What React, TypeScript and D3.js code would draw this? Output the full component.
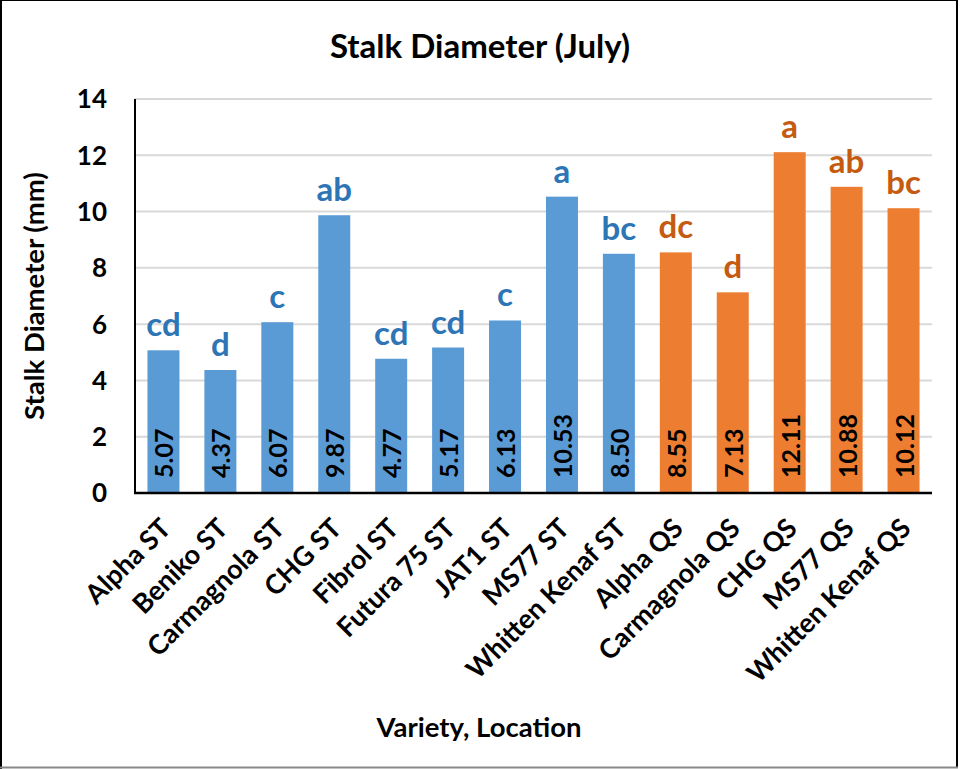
import React from "react";
import * as d3 from "d3";

const categories = [
  "Alpha ST", "Beniko ST", "Carmagnola ST", "CHG ST", "Fibrol ST", "Futura 75 ST",
  "JAT1 ST", "MS77 ST", "Whitten Kenaf ST", "Alpha QS", "Carmagnola QS", "CHG QS",
  "MS77 QS", "Whitten Kenaf QS",
];
const values = [5.07, 4.37, 6.07, 9.87, 4.77, 5.17, 6.13, 10.53, 8.5, 8.55, 7.13, 12.11, 10.88, 10.12];
const letters = ["cd", "d", "c", "ab", "cd", "cd", "c", "a", "bc", "dc", "d", "a", "ab", "bc"];
const locations = ["ST", "ST", "ST", "ST", "ST", "ST", "ST", "ST", "ST", "QS", "QS", "QS", "QS", "QS"];
const yTicks = [0, 2, 4, 6, 8, 10, 12, 14];

const W = 961;
const H = 769;
const FONT = "Lato, 'Open Sans', sans-serif";

export default function App() {
  const left = 135, right = 932, top = 99, bottom = 493;
  const x = d3.scaleBand<string>().domain(categories).range([left, right]).paddingInner(0.438).paddingOuter(0.219);
  const y = d3.scaleLinear().domain([0, 14]).range([bottom, top]);
  const barColor = d3.scaleOrdinal<string, string>().domain(["ST", "QS"]).range(["#5B9BD5", "#ED7D31"]);
  const letterColor = d3.scaleOrdinal<string, string>().domain(["ST", "QS"]).range(["#2E75B6", "#C55A11"]);

  return (
    <div style={{ position: "absolute", left: 0, top: 0 }}>
      <svg width={W} height={H} style={{ display: "block", fontFamily: FONT }}>
        <rect x={0} y={0} width={W} height={H} fill="#fff" />
        {/* frame */}
        <line x1={1} y1={0} x2={1} y2={H} stroke="#000" strokeWidth={2} />
        <line x1={0} y1={0.5} x2={958} y2={0.5} stroke="#000" strokeWidth={1} />
        <line x1={957} y1={0} x2={957} y2={768} stroke="#000" strokeWidth={2} />
        <line x1={0} y1={767.5} x2={958} y2={767.5} stroke="#888" strokeWidth={2} />

        <text x={480} y={58} textAnchor="middle" fontSize={33} fontWeight={700} fill="#000">
          Stalk Diameter (July)
        </text>

        {yTicks.map((t) => (
          <g key={t}>
            {t > 0 && (
              <line x1={left} x2={right} y1={y(t)} y2={y(t)} stroke="#D9D9D9" strokeWidth={2} />
            )}
            <text x={107} y={y(t)} dy="0.36em" textAnchor="end" fontSize={26} fontWeight={700} fill="#000">
              {t}
            </text>
          </g>
        ))}

        {categories.map((c, i) => {
          const bx = x(c)!;
          const bw = x.bandwidth();
          const cx = bx + bw / 2;
          return (
            <g key={c}>
              <rect x={bx} y={y(values[i])} width={bw} height={bottom - y(values[i])} fill={barColor(locations[i])} />
              <text x={cx} y={y(values[i]) - 14} textAnchor="middle" fontSize={33} fontWeight={700} fill={letterColor(locations[i])}>
                {letters[i]}
              </text>
              <text
                transform={`translate(${cx + 1},${478}) rotate(-90)`}
                dy="0.36em"
                textAnchor="start"
                fontSize={25}
                fontWeight={700}
                fill="#000"
              >
                {values[i].toFixed(2)}
              </text>
              <text
                transform={`translate(${cx + 9},${530}) rotate(-45)`}
                textAnchor="end"
                fontSize={27}
                fontWeight={700}
                fill="#000"
              >
                {c}
              </text>
            </g>
          );
        })}

        <line x1={left} x2={left} y1={top} y2={bottom} stroke="#000" strokeWidth={2} />
        <line x1={left - 1} x2={right} y1={bottom} y2={bottom} stroke="#000" strokeWidth={2.5} />

        <text transform={`translate(${44},${296}) rotate(-90)`} textAnchor="middle" fontSize={27.5} fontWeight={700} fill="#000">
          Stalk Diameter (mm)
        </text>
        <text x={479} y={737} textAnchor="middle" fontSize={27.5} fontWeight={700} fill="#000">
          Variety, Location
        </text>
      </svg>
    </div>
  );
}
